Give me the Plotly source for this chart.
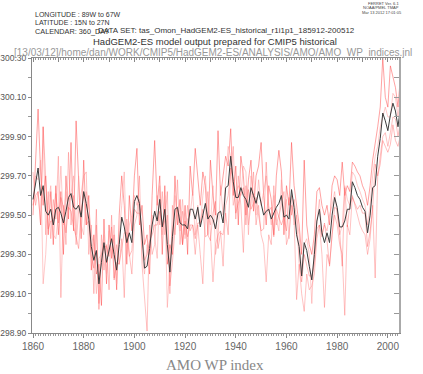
import plotly.graph_objects as go

years = list(range(1860, 2006))

ens_mean = [
299.58,299.66,299.74,299.60,299.65,299.52,299.50,299.53,299.45,299.53,
299.54,299.51,299.46,299.52,299.59,299.61,299.54,299.53,299.55,299.49,
299.62,299.56,299.48,299.34,299.27,299.32,299.15,299.26,299.36,299.26,
299.32,299.38,299.30,299.22,299.35,299.49,299.44,299.36,299.41,299.36,
299.57,299.60,299.56,299.38,299.23,299.24,299.33,299.45,299.52,299.47,
299.58,299.44,299.53,299.35,299.21,299.39,299.53,299.54,299.46,299.45,
299.45,299.43,299.53,299.53,299.48,299.54,299.44,299.50,299.56,299.48,
299.50,299.48,299.43,299.51,299.52,299.46,299.64,299.65,299.80,299.67,
299.59,299.59,299.64,299.60,299.58,299.54,299.64,299.60,299.56,299.62,
299.56,299.50,299.52,299.53,299.48,299.51,299.54,299.56,299.60,299.49,
299.50,299.48,299.63,299.54,299.40,299.34,299.19,299.36,299.32,299.24,
299.17,299.30,299.47,299.53,299.41,299.36,299.41,299.36,299.50,299.59,
299.54,299.44,299.44,299.47,299.53,299.53,299.67,299.64,299.60,299.58,
299.54,299.52,299.41,299.50,299.64,299.65,299.80,299.89,300.02,299.98,
299.93,300.01,300.07,300.03,299.95,300.05]

member_r1 = [
299.50,299.80,300.04,299.72,299.55,299.70,299.40,299.62,299.35,299.65,
299.40,299.62,299.30,299.70,299.48,299.87,299.42,299.98,299.65,299.38,
299.78,299.45,299.60,299.22,299.40,299.20,299.25,299.04,299.48,299.15,
299.45,299.28,299.40,299.12,299.50,299.70,299.55,299.25,299.60,299.42,
299.70,299.84,299.45,299.55,299.35,299.40,299.20,299.60,299.88,299.55,
299.70,299.30,299.65,299.25,299.35,299.30,299.70,299.45,299.58,299.35,
299.55,299.30,299.75,299.60,299.84,299.70,299.55,299.72,299.65,299.40,
299.78,299.60,299.50,299.93,299.60,299.70,299.80,299.75,299.94,299.60,
299.75,299.45,299.80,299.70,299.50,299.68,299.78,299.52,299.70,299.75,
299.87,299.60,299.45,299.65,299.58,299.40,299.70,299.83,299.72,299.40,
299.65,299.55,299.87,299.65,299.55,299.45,299.30,299.78,299.45,299.35,
299.30,299.40,299.62,299.64,299.55,299.50,299.55,299.45,299.65,299.70,
299.68,299.60,299.77,299.60,299.65,299.62,299.77,299.75,299.72,299.70,
299.65,299.62,299.55,299.65,299.78,299.86,299.95,300.05,300.30,300.10,
300.05,300.26,300.20,300.15,300.05,300.21]

member_r2 = [
299.72,299.55,299.62,299.45,299.95,299.40,299.62,299.38,299.58,299.48,
299.80,299.08,299.55,299.35,299.82,299.45,299.60,299.35,299.52,299.60,
299.70,299.72,299.30,299.45,299.10,299.45,299.05,299.40,299.22,299.35,
299.12,299.50,299.18,299.35,299.25,299.38,299.08,299.48,299.30,299.20,
299.45,299.50,299.70,299.25,299.10,298.91,299.45,299.30,299.35,299.60,
299.45,299.62,299.40,299.50,299.10,299.55,299.40,299.68,299.35,299.52,
299.40,299.55,299.42,299.45,299.30,299.45,299.30,299.15,299.50,299.62,
299.40,299.16,299.35,299.40,299.42,299.24,299.55,299.60,299.72,299.85,
299.48,299.70,299.55,299.31,299.65,299.45,299.55,299.72,299.45,299.55,
299.40,299.35,299.16,299.40,299.35,299.65,299.45,299.50,299.55,299.62,
299.35,299.40,299.55,299.48,299.07,299.25,299.10,299.01,299.20,299.12,
299.14,299.20,299.38,299.45,299.30,299.03,299.30,299.25,299.40,299.50,
299.45,299.35,299.30,298.99,299.45,299.40,299.60,299.55,299.50,299.45,
299.42,299.40,299.30,299.38,299.55,299.18,299.70,299.80,299.90,299.92,
299.85,299.92,300.00,299.99,299.90,299.98]

member_r3 = [
299.55,299.70,299.68,299.78,299.15,299.30,299.55,299.65,299.40,299.38,
299.50,299.75,299.45,299.62,299.52,299.60,299.70,299.40,299.70,299.45,
299.40,299.62,299.55,299.40,299.35,299.10,299.28,299.30,299.40,299.20,
299.42,299.30,299.45,299.15,299.40,299.55,299.72,299.30,299.45,299.50,
299.60,299.55,299.58,299.30,299.20,299.35,299.30,299.50,299.40,299.28,
299.65,299.40,299.60,299.03,299.25,299.45,299.60,299.50,299.42,299.58,
299.38,299.48,299.50,299.62,299.40,299.55,299.45,299.60,299.70,299.50,
299.45,299.65,299.30,299.38,299.65,299.50,299.70,299.85,299.80,299.55,
299.62,299.65,299.60,299.75,299.72,299.40,299.70,299.60,299.50,299.68,
299.55,299.62,299.70,299.55,299.45,299.60,299.48,299.42,299.68,299.45,
299.58,299.38,299.60,299.45,299.50,299.40,299.20,299.35,299.38,299.30,
299.05,299.35,299.45,299.58,299.40,299.45,299.42,299.50,299.55,299.62,
299.50,299.40,299.45,299.65,299.58,299.55,299.72,299.70,299.65,299.62,
299.58,299.55,299.45,299.55,299.70,299.80,299.85,299.95,300.00,300.05,
300.00,300.00,300.12,300.10,300.00,300.10]

member_r4 = [
299.55,299.60,299.62,299.45,299.95,299.68,299.43,299.47,299.47,299.61,
299.46,299.59,299.54,299.41,299.54,299.52,299.44,299.39,299.33,299.53,
299.60,299.45,299.47,299.29,299.23,299.53,299.02,299.30,299.34,299.34,
299.29,299.44,299.17,299.26,299.25,299.33,299.41,299.41,299.29,299.32,
299.53,299.51,299.51,299.42,299.27,299.30,299.37,299.40,299.45,299.45,
299.52,299.44,299.47,299.62,299.14,299.26,299.42,299.53,299.49,299.35,
299.47,299.39,299.45,299.45,299.38,299.46,299.46,299.53,299.39,299.40,
299.37,299.51,299.57,299.33,299.41,299.40,299.51,299.40,299.74,299.68,
299.51,299.56,299.61,299.64,299.45,299.63,299.53,299.56,299.59,299.50,
299.42,299.43,299.77,299.52,299.54,299.39,299.53,299.49,299.45,299.49,
299.42,299.59,299.50,299.58,299.48,299.26,299.16,299.30,299.25,299.19,
299.19,299.25,299.43,299.45,299.39,299.46,299.37,299.24,299.40,299.54,
299.53,299.41,299.24,299.64,299.44,299.55,299.59,299.56,299.53,299.55,
299.51,299.51,299.34,299.42,299.53,299.76,299.70,299.76,299.88,299.85,
299.82,299.86,299.96,299.88,299.85,299.91]

members = [member_r1, member_r2, member_r3, member_r4]
member_colors = ["rgba(255,70,70,0.5)", "rgba(255,120,120,0.45)",
                 "rgba(255,150,150,0.5)", "rgba(255,90,90,0.4)"]

x_range = [1859.6, 2004.4]
y_range = [298.9, 300.3]
y_ticks = [298.9, 299.1, 299.3, 299.5, 299.7, 299.9, 300.1, 300.3]
x_ticks = [1860, 1880, 1900, 1920, 1940, 1960, 1980, 2000]

W, H = 423, 374
L, R, T, B = 32, 24, 58, 41
PW, PH = W - L - R, H - T - B

def px(x):
    return (x - L) / PW

def py(y):
    return (H - B - y) / PH

fig = go.Figure()
for vals, col in zip(members, member_colors):
    fig.add_trace(go.Scatter(x=years, y=vals, mode="lines",
                             line=dict(color=col, width=1), hoverinfo="skip"))
fig.add_trace(go.Scatter(x=years, y=ens_mean, mode="lines",
                         line=dict(color="#3c3c3c", width=1), hoverinfo="skip"))
fig.add_trace(go.Scatter(x=[years[0]], y=[ens_mean[0]], xaxis="x2", yaxis="y2",
                         mode="markers", marker=dict(opacity=0), hoverinfo="skip"))

fig.update_layout(
    width=W, height=H, margin=dict(l=L, r=R, t=T, b=B, autoexpand=False),
    paper_bgcolor="white", plot_bgcolor="white", showlegend=False,
    xaxis=dict(range=x_range, tickvals=x_ticks, automargin=False,
               ticks="outside", ticklen=4, tickcolor="#888888",
               minor=dict(dtick=1, tick0=1860, ticks="outside", ticklen=2, tickcolor="#999999"),
               showgrid=False, zeroline=False, showline=True, linecolor="#888888",
               linewidth=1, tickfont=dict(family="Liberation Sans", size=10, color="#666666")),
    yaxis=dict(range=y_range, tickvals=y_ticks, tickformat=".2f", automargin=False,
               ticks="outside", ticklen=3, tickcolor="#888888",
               minor=dict(dtick=0.1, tick0=298.9, ticks="outside", ticklen=3, tickcolor="#999999"),
               showgrid=False, zeroline=False, showline=True, linecolor="#888888",
               linewidth=1, tickfont=dict(family="Liberation Sans", size=8.5, color="#555555")),
    xaxis2=dict(range=x_range, overlaying="x", side="top", showticklabels=False,
                automargin=False,
                ticks="inside", ticklen=4, tickcolor="#888888", dtick=10, tick0=1860,
                minor=dict(dtick=1, ticks="inside", ticklen=2, tickcolor="#999999"),
                showgrid=False, zeroline=False, showline=True, linecolor="#888888"),
    yaxis2=dict(range=y_range, overlaying="y", side="right", showticklabels=False,
                automargin=False,
                ticks="inside", ticklen=5, tickcolor="#999999", dtick=0.1, tick0=298.9,
                showgrid=False, zeroline=False, showline=True, linecolor="#aaaaaa",
                linewidth=2),
)

small = dict(family="Liberation Sans", size=7, color="#333333")
cal = dict(family="Liberation Sans", size=7.3, color="#333333")
mid = dict(family="Liberation Sans", size=8, color="#333333")
sub = dict(family="Liberation Sans", size=9.5, color="#333333")
tiny = dict(family="Liberation Sans", size=4, color="#444444")
ann = [
    dict(text="LONGITUDE : 89W to 67W", x=px(33), y=py(14), xanchor="left", font=small),
    dict(text="LATITUDE : 15N to 27N", x=px(33), y=py(22), xanchor="left", font=small),
    dict(text="CALENDAR: 360_DAY", x=px(33), y=py(31), xanchor="left", font=cal),
    dict(text="DATA SET: tas_Omon_HadGEM2-ES_historical_r1i1p1_185912-200512",
         x=px(96), y=py(30), xanchor="left", font=mid),
    dict(text="HadGEM2-ES model output prepared for CMIP5 historical",
         x=px(215), y=py(41), xanchor="center", font=sub),
    dict(text="[13/03/12]/home/dan/WORK/CMIP5/HadGEM2-ES/ANALYSIS/AMO/AMO_WP_indices.jnl",
         x=px(213), y=py(52), xanchor="center",
         font=dict(family="Liberation Sans", size=10, color="#999999")),
    dict(text="FERRET Ver. 6.1", x=px(401), y=py(3), xanchor="right", font=tiny),
    dict(text="NOAA/PMEL TMAP", x=px(401), y=py(7.5), xanchor="right", font=tiny),
    dict(text="Mar 13 2012 17:01:05", x=px(404), y=py(12), xanchor="right", font=tiny),
    dict(text="AMO WP index", x=px(215), y=py(365), xanchor="center",
         font=dict(family="Liberation Serif", size=15, color="#888888")),
]
for a in ann:
    a.update(xref="paper", yref="paper", yanchor="middle", showarrow=False)
fig.update_layout(annotations=ann)

fig.write_html("out.html", config={"displayModeBar": False},
               post_script="document.body.style.margin='0';")
